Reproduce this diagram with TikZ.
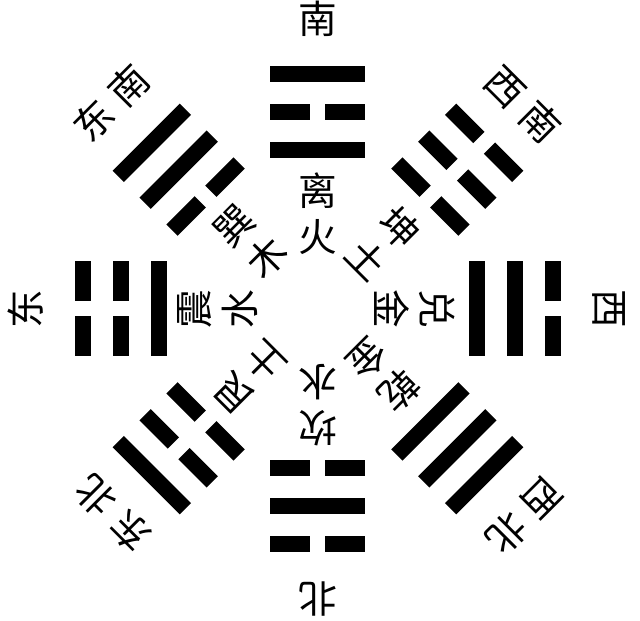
\documentclass[tikz,border=0pt]{standalone}
\usepackage{fontspec}
\newfontfamily\cjk{Noto Sans CJK SC}
\tikzstyle{direction}=[font=\cjk\fontsize{29}{29}\selectfont,inner sep=0pt]
\tikzstyle{element}=[font=\cjk\fontsize{29}{34.5}\selectfont,align=center,inner sep=0pt]
\tikzstyle{yao}=[fill=black]

\begin{document}
\begin{tikzpicture}[x=0.75pt,y=0.75pt]
	\useasboundingbox (-318,-312) rectangle (322,309);
	% trigrams: angle / bottom / middle / top line (1 = solid, 0 = broken)
	\foreach \ang/\ya/\yb/\yc in {90/1/0/1,45/0/0/0,0/1/1/0,-45/1/1/1,-90/0/1/0,-135/0/0/1,180/1/0/0,135/0/1/1}
	{
		\begin{scope}[rotate=\ang-90]
			\foreach \r/\y in {159/\ya,197/\yb,235/\yc}
			{
				\ifnum\y=1
					\path[yao] (-47.5,\r-8) rectangle (47.5,\r+8);
				\else
					\path[yao] (-47.5,\r-8) rectangle (-7.5,\r+8);
					\path[yao] (7.5,\r-8) rectangle (47.5,\r+8);
				\fi
			}
		\end{scope}
	}
	% directions
	\node[direction] (s) at (90:290) {南};
	\node[direction,rotate=-45] (sw) at (45:290) {西\hspace{8pt}南};
	\node[direction,rotate=-90] (w) at (0:291) {西};
	\node[direction,rotate=-135] (nw) at (-45:292) {西\hspace{8pt}北};
	\node[direction,rotate=180] (n) at (-90:290) {北};
	\node[direction,rotate=135] (ne) at (-135:290) {东\hspace{8pt}北};
	\node[direction,rotate=90] (e) at (180:292) {东};
	\node[direction,rotate=45] (se) at (135:292) {东\hspace{8pt}南};
	% trigram names and elements
	\node[element] (li) at (90:95) {离\\火};
	\node[element,rotate=-45] (kun) at (45:93) {坤\\土};
	\node[element,rotate=-90] (dui) at (0:97) {兑\\金};
	\node[element,rotate=-135] (qian) at (-45:93) {乾\\金};
	\node[element,rotate=180] (kan) at (-90:96) {坎\\水};
	\node[element,rotate=135] (gen) at (-135:97) {艮\\土};
	\node[element,rotate=90] (zhen) at (180:100) {震\\水};
	\node[element,rotate=45] (xun) at (135:95) {巽\\木};
\end{tikzpicture}
\end{document}
